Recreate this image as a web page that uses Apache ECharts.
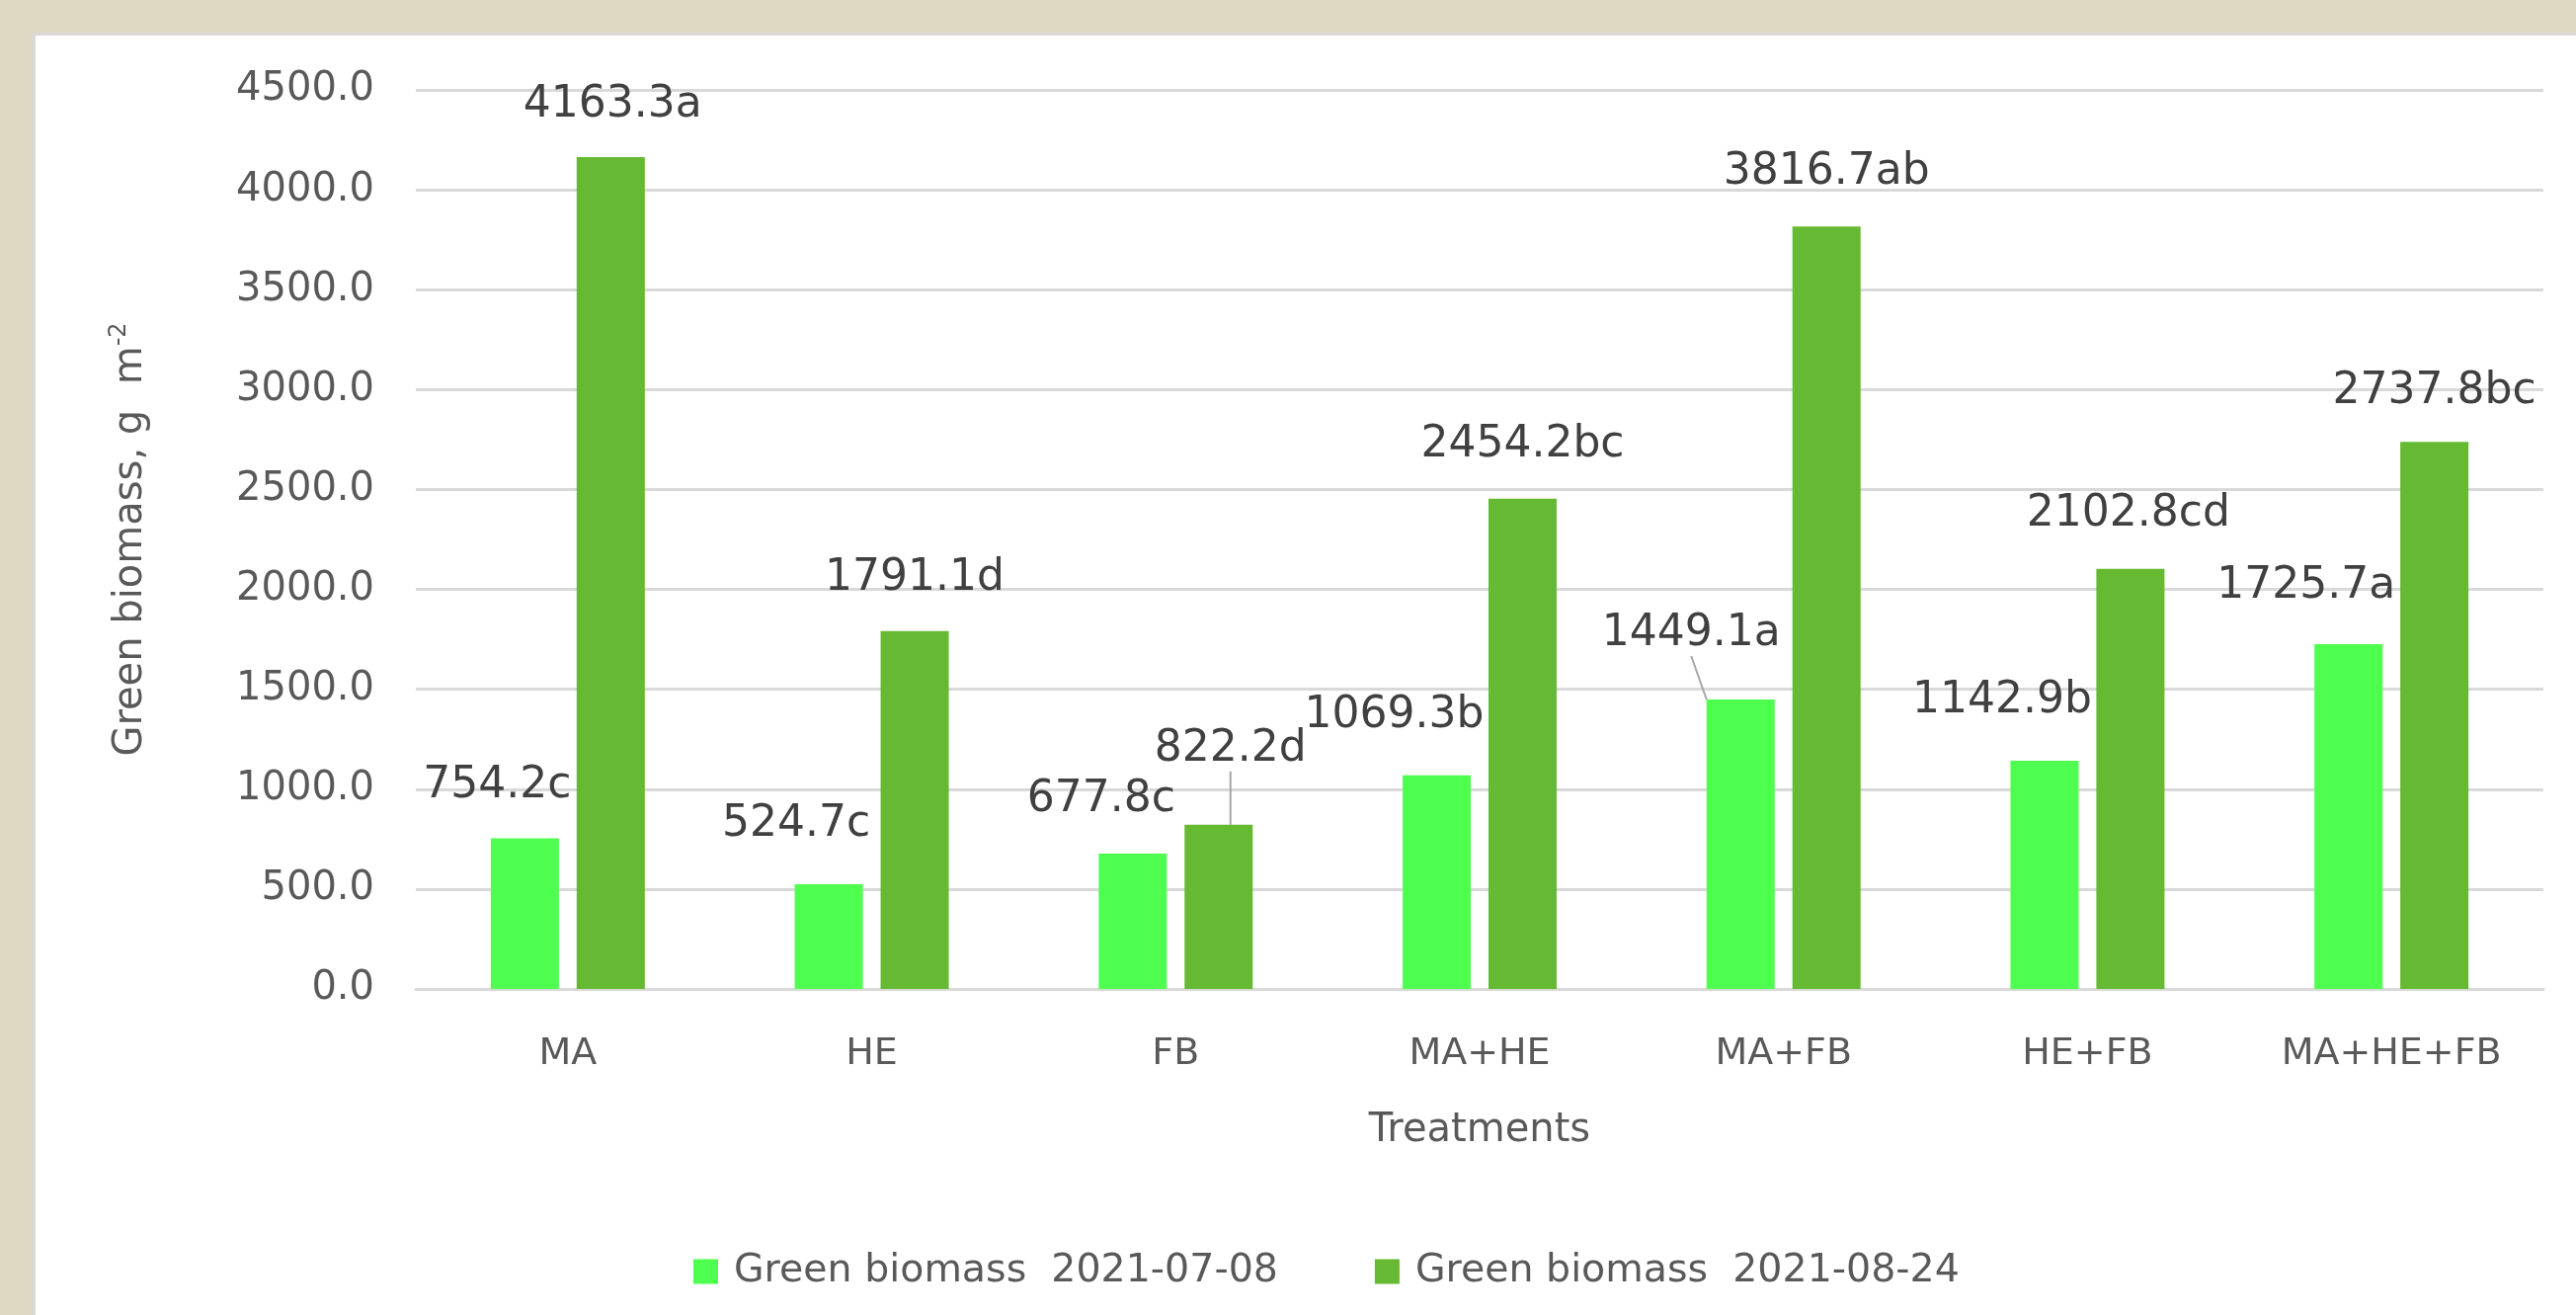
<!DOCTYPE html>
<html>
<head>
<meta charset="utf-8">
<script src="https://cdn.jsdelivr.net/npm/echarts@6/dist/echarts.min.js"></script>
<style>
  html, body { margin: 0; padding: 0; background: #dfd9c3; }
  #main { width: 2608px; height: 1331px; }
</style>
</head>
<body>
<div id="main"></div>
<script>
// treatments on the x axis
const categories = ['MA', 'HE', 'FB', 'MA+HE', 'MA+FB', 'HE+FB', 'MA+HE+FB']
// green biomass, g m-2
const biomassJul = [754.2, 524.7, 677.8, 1069.3, 1449.1, 1142.9, 1725.7]
const biomassAug = [4163.3, 1791.1, 822.2, 2454.2, 3816.7, 2102.8, 2737.8]
// significance letters
const lettersJul = ['c', 'c', 'c', 'b', 'a', 'b', 'a']
const lettersAug = ['a', 'd', 'd', 'bc', 'ab', 'cd', 'bc']
const seriesNames = ['Green biomass  2021-07-08', 'Green biomass  2021-08-24']
const yMax = 4500
const yStep = 500

// hand-moved labels, as in the original (px)
const shiftJul = [[-28, 0], [-33, -7], [-32, -1], [-43, -7], [-50, -13], [-43, -7], [-43, -5]]
const shiftAug = [[2, 0], [0, 0], [12, -23], [0, -1], [0, -2], [-2, -2], [0, 2]]
const leaderJul = [4]
const leaderAug = [2]

const txt = '#595959'
const font = 'DejaVu Sans'

function items(values, leaders) {
    return values.map((v, i) => {
        const it = { value: v }
        if (leaders.indexOf(i) >= 0) {
            it.labelLine = { show: true, lineStyle: { color: '#a6a6a6', width: 2 } }
        }
        return it
    })
}

function barSeries(name, values, letters, color, shifts, leaders) {
    return {
        name: name,
        type: 'bar',
        barWidth: 69,
        barGap: '26%',
        itemStyle: { color: color },
        data: items(values, leaders),
        label: {
            show: true,
            position: 'top',
            distance: 31,
            fontFamily: font,
            fontSize: 44,
            color: '#404040',
            formatter: p => p.value.toFixed(1) + letters[p.dataIndex]
        },
        labelLayout: p => ({ dx: shifts[p.dataIndex][0], dy: shifts[p.dataIndex][1] })
    }
}

const chart = echarts.init(document.getElementById('main'))
chart.setOption({
    backgroundColor: '#dfd9c3',
    animation: false,
    graphic: [{
        type: 'rect',
        left: 33,
        top: 33,
        shape: { width: 2640, height: 1340 },
        style: { fill: '#ffffff', stroke: '#d9d9d9', lineWidth: 3 },
        z: -10
    }],
    grid: {
        left: 421,
        right: 33,
        top: 91,
        bottom: 330
    },
    legend: {
        left: 702,
        top: 1267,
        padding: 0,
        itemWidth: 25,
        itemHeight: 25,
        itemGap: 98,
        icon: 'rect',
        textStyle: {
            fontFamily: font,
            fontSize: 39.5,
            color: txt,
            padding: [0, 0, 0, 11]
        },
        data: seriesNames
    },
    xAxis: {
        type: 'category',
        data: categories,
        name: 'Treatments',
        nameLocation: 'middle',
        nameGap: 124,
        nameTextStyle: { fontFamily: font, fontSize: 40, color: txt },
        axisLine: { lineStyle: { color: '#d9d9d9', width: 3 } },
        axisTick: { show: false },
        axisLabel: { fontFamily: font, fontSize: 38, color: txt, margin: 47 }
    },
    yAxis: {
        type: 'value',
        min: 0,
        max: yMax,
        interval: yStep,
        name: '{a|Green biomass, g  m}{sup|-2}',
        nameLocation: 'middle',
        nameRotate: 90,
        nameGap: 264,
        nameTextStyle: {
            rich: {
                a: { fontFamily: font, fontSize: 40, color: txt, lineHeight: 48 },
                sup: { fontFamily: font, fontSize: 24, color: txt, lineHeight: 24, verticalAlign: 'top' }
            }
        },
        axisLine: { show: false },
        axisTick: { show: false },
        axisLabel: {
            fontFamily: font,
            fontSize: 40,
            color: txt,
            margin: 42,
            formatter: v => v.toFixed(1)
        },
        splitLine: { lineStyle: { color: '#d9d9d9', width: 3 } }
    },
    series: [
        barSeries(seriesNames[0], biomassJul, lettersJul, '#4fff4f', shiftJul, leaderJul),
        barSeries(seriesNames[1], biomassAug, lettersAug, '#66b932', shiftAug, leaderAug)
    ]
})
</script>
</body>
</html>
